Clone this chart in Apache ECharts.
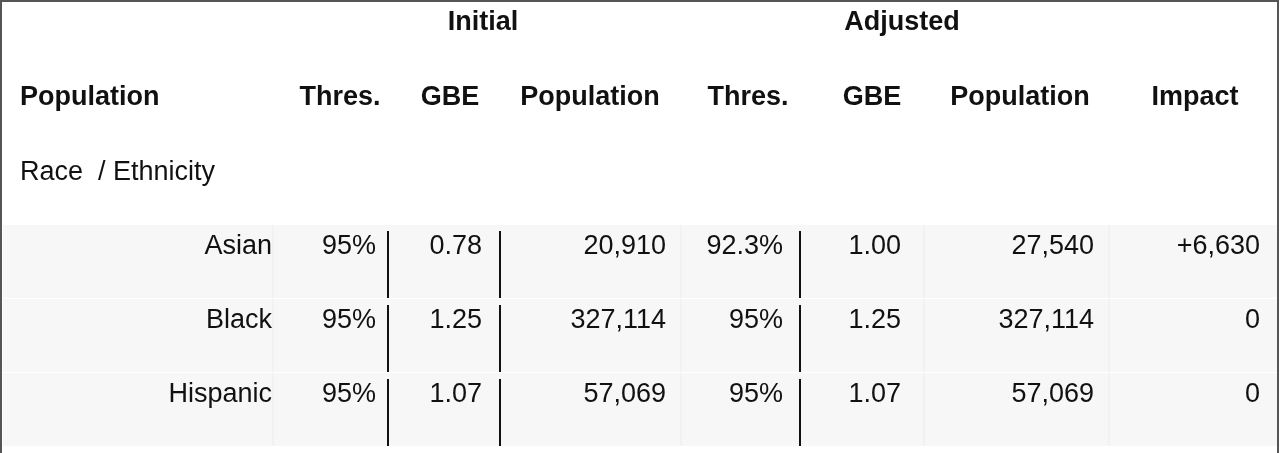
<!DOCTYPE html>
<html><head><meta charset="utf-8">
<script src="https://cdn.jsdelivr.net/npm/echarts@6/dist/echarts.min.js"></script>
<style>html,body{margin:0;padding:0;background:#fff}#c{width:1280px;height:453px}</style>
</head><body><div id="c"></div>
<script>
const groups = ['Initial', 'Adjusted'];
const headers = ['Population', 'Thres.', 'GBE', 'Population', 'Thres.', 'GBE', 'Population', 'Impact'];
const subHeader = 'Race  / Ethnicity';
const races = ['Asian', 'Black', 'Hispanic'];
const initThres = ['95%', '95%', '95%'];
const initGBE = ['0.78', '1.25', '1.07'];
const initPop = ['20,910', '327,114', '57,069'];
const adjThres = ['92.3%', '95%', '95%'];
const adjGBE = ['1.00', '1.25', '1.07'];
const adjPop = ['27,540', '327,114', '57,069'];
const impact = ['+6,630', '0', '0'];

const font = '"Liberation Sans", Arial, sans-serif';
const colRight = [272, 376, 482, 666, 783, 901, 1094, 1260];
const headCenter = [null, 340, 450, 590, 748, 872, 1020, 1195];
const faint = [273, 681, 924, 1109];
const heavy = [388, 500, 800];
const rowTop = [225, 299, 373];
const rowH = 73;
const cols = [races, initThres, initGBE, initPop, adjThres, adjGBE, adjPop, impact];
const g = [];
g.push({type:'polyline', shape:{points:[[1,453],[1,1],[1278,1],[1278,453]]}, style:{stroke:'#555', lineWidth:2, fill:null}});
g.push({type:'text', x:483, y:23, style:{text:groups[0], font:'bold 27px '+font, fill:'#111', align:'center', verticalAlign:'middle'}});
g.push({type:'text', x:902, y:23, style:{text:groups[1], font:'bold 27px '+font, fill:'#111', align:'center', verticalAlign:'middle'}});
headers.forEach((h,i)=>{
  g.push({type:'text', x: i===0?20:headCenter[i], y:98, style:{text:h, font:'bold 27px '+font, fill:'#111', align: i===0?'left':'center', verticalAlign:'middle'}});
});
g.push({type:'text', x:20, y:173, style:{text:subHeader, font:'27px '+font, fill:'#111', align:'left', verticalAlign:'middle'}});
rowTop.forEach((t,r)=>{
  g.push({type:'rect', shape:{x:3, y:t, width:1274, height:rowH}, style:{fill:'#f7f7f7'}});
  faint.forEach(x=>g.push({type:'line', shape:{x1:x,y1:t,x2:x,y2:t+rowH}, style:{stroke:'#ececec', lineWidth:1}}));
  heavy.forEach(x=>g.push({type:'line', shape:{x1:x,y1:t+6,x2:x,y2:t+rowH}, style:{stroke:'#111', lineWidth:2}}));
  cols.forEach((c,i)=>{
    g.push({type:'text', x:colRight[i], y:t+22, style:{text:c[r], font:'27px '+font, fill:'#111', align:'right', verticalAlign:'middle'}});
  });
});
const chart = echarts.init(document.getElementById('c'));
chart.setOption({animation:false, graphic:{elements:g}});
</script></body></html>
